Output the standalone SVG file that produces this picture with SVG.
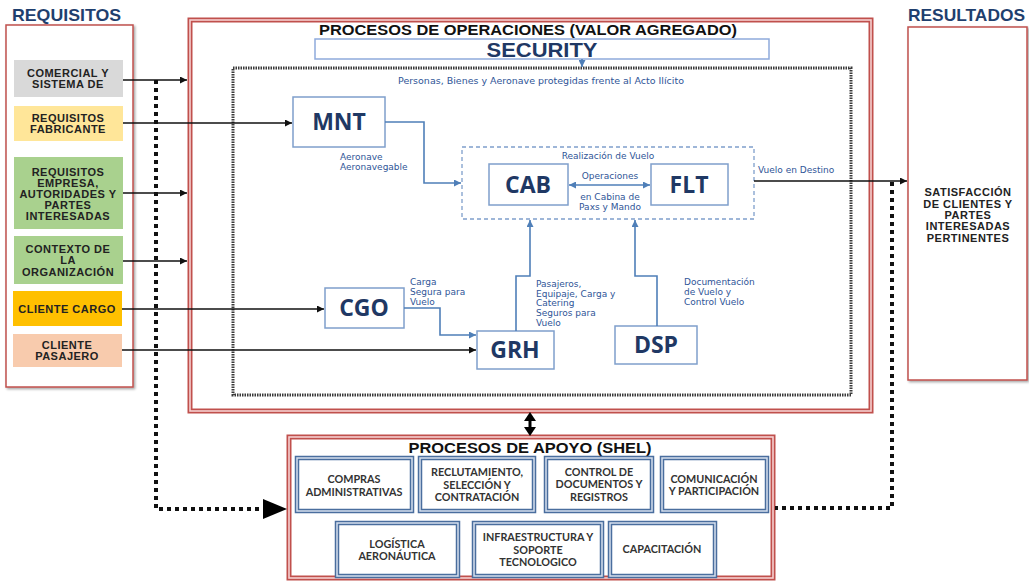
<svg xmlns="http://www.w3.org/2000/svg" width="1029" height="582" viewBox="0 0 1029 582">
<defs>
<marker id="ab" viewBox="0 0 10 10" refX="10" refY="5" markerWidth="7" markerHeight="7" markerUnits="userSpaceOnUse" orient="auto"><path d="M0,0 L10,5 L0,10 z" fill="#111"/></marker>
<marker id="abl" viewBox="0 0 10 10" refX="10" refY="5" markerWidth="7" markerHeight="7" markerUnits="userSpaceOnUse" orient="auto-start-reverse"><path d="M0,0 L10,5 L0,10 z" fill="#4f7fb8"/></marker>
<filter id="sh" x="-5%" y="-5%" width="110%" height="110%"><feDropShadow dx="1.5" dy="1.5" stdDeviation="1" flood-color="#000" flood-opacity="0.35"/></filter>
</defs>
<style>
text{font-family:"Liberation Sans",Arial,sans-serif}
.hd{font-weight:700;fill:#1f3f6e;font-size:17px}
.req{font-weight:700;font-size:11px;fill:#222;text-anchor:middle;letter-spacing:0.5px}
.redbox{fill:#fff;stroke:#c0504d;stroke-width:1.5}
.dbl{fill:none;stroke:#c0504d;stroke-width:5}
.dbli{fill:none;stroke:#f6d0d0;stroke-width:1.6}
.node{fill:#fff;stroke:#7f9fcb;stroke-width:1.5}
.nl{font-family:"Open Sans","Liberation Sans",sans-serif;font-weight:700;font-size:23px;fill:#1f3864;text-anchor:middle}
.sm{font-family:"DejaVu Sans",sans-serif;font-size:9px;fill:#2f5597}
.smc{font-family:"DejaVu Sans",sans-serif;font-size:9px;fill:#2f5597;text-anchor:middle}
.blk{fill:none;stroke:#111;stroke-width:1.6}
.blu{fill:none;stroke:#4f7fb8;stroke-width:1.6}
.dot{fill:none;stroke:#111;stroke-width:4;stroke-dasharray:4 4}
.sup{fill:#fff;stroke:#4a6e9e;stroke-width:4.5}
.supi{fill:none;stroke:#d6e0ee;stroke-width:1.5}
.st{font-family:Lato,"Liberation Sans",sans-serif;font-weight:700;font-size:10.8px;fill:#333;text-anchor:middle}
.ttl{font-weight:700;font-size:14.5px;fill:#111;text-anchor:middle}
</style>

<!-- Left: REQUISITOS -->
<g id="requisitos">
<text class="hd" x="12" y="21" textLength="109" lengthAdjust="spacingAndGlyphs">REQUISITOS</text>
<rect class="redbox" x="6" y="25" width="127" height="362" filter="url(#sh)"/>
</g>
<g id="req-comercial">
<rect x="14" y="60" width="109" height="37" fill="#d9d9d9"/>
<text class="req" x="68" y="77">COMERCIAL Y</text>
<text class="req" x="68" y="88">SISTEMA DE</text>
</g>
<g id="req-fabricante">
<rect x="14" y="106" width="109" height="35" fill="#ffe699"/>
<text class="req" x="68" y="122">REQUISITOS</text>
<text class="req" x="68" y="133">FABRICANTE</text>
</g>
<g id="req-empresa">
<rect x="14" y="157" width="109" height="72" fill="#a9d18e"/>
<text class="req" x="68" y="176">REQUISITOS</text>
<text class="req" x="68" y="187">EMPRESA,</text>
<text class="req" x="68" y="198">AUTORIDADES Y</text>
<text class="req" x="68" y="209">PARTES</text>
<text class="req" x="68" y="220">INTERESADAS</text>
</g>
<g id="req-contexto">
<rect x="14" y="236" width="109" height="48" fill="#a9d18e"/>
<text class="req" x="68" y="253">CONTEXTO DE</text>
<text class="req" x="68" y="264">LA</text>
<text class="req" x="68" y="276">ORGANIZACIÓN</text>
</g>
<g id="req-cargo">
<rect x="13" y="291" width="109" height="35" fill="#ffc000"/>
<text class="req" x="67" y="313">CLIENTE CARGO</text>
</g>
<g id="req-pasajero">
<rect x="13" y="334" width="109" height="33" fill="#f8cbad"/>
<text class="req" x="67" y="349">CLIENTE</text>
<text class="req" x="67" y="360">PASAJERO</text>
</g>

<!-- Operations -->
<g id="operaciones">
<rect class="dbl" x="190" y="20" width="681" height="391"/>
<rect class="dbli" x="190" y="20" width="681" height="391"/>
<text class="ttl" x="528" y="35" textLength="418" lengthAdjust="spacingAndGlyphs">PROCESOS DE OPERACIONES (VALOR AGREGADO)</text>
<rect x="233" y="68" width="618" height="327" fill="none" stroke="#3a3a3a" stroke-width="3" stroke-dasharray="1.5 1"/>
<text class="smc" x="541" y="84" textLength="286" lengthAdjust="spacingAndGlyphs">Personas, Bienes y Aeronave protegidas frente al Acto Ilícito</text>
</g>
<g id="security">
<rect x="315" y="39" width="454" height="20" fill="#fff" stroke="#8eaadb" stroke-width="1.5"/>
<text x="542" y="57" font-family="Open Sans, Liberation Sans, sans-serif" font-weight="700" font-size="20" fill="#1f3864" text-anchor="middle" textLength="111" lengthAdjust="spacingAndGlyphs">SECURITY</text>
</g>
<g id="realizacion">
<rect x="462" y="147" width="292" height="72" fill="none" stroke="#7f9fcb" stroke-width="1.3" stroke-dasharray="4 3"/>
<text class="smc" x="608" y="159">Realización de Vuelo</text>
<text class="smc" x="610" y="179">Operaciones</text>
<text class="smc" x="610" y="200">en Cabina  de</text>
<text class="smc" x="610" y="210">Paxs y Mando</text>
</g>
<g id="mnt">
<rect class="node" x="293" y="97" width="92" height="50"/>
<text class="nl" x="339" y="130">MNT</text>
<text class="sm" x="340" y="160">Aeronave</text>
<text class="sm" x="340" y="170">Aeronavegable</text>
</g>
<g id="cab">
<rect class="node" x="489" y="164" width="79" height="41"/>
<text class="nl" x="528" y="193">CAB</text>
</g>
<g id="flt">
<rect class="node" x="651" y="164" width="77" height="41"/>
<text class="nl" x="689" y="193">FLT</text>
</g>
<g id="cgo">
<rect class="node" x="325" y="288" width="79" height="40"/>
<text class="nl" x="364" y="316">CGO</text>
<text class="sm" x="410" y="285">Carga</text>
<text class="sm" x="410" y="295">Segura para</text>
<text class="sm" x="410" y="305">Vuelo</text>
</g>
<g id="grh">
<rect class="node" x="477" y="331" width="77" height="38"/>
<text class="nl" x="515" y="358">GRH</text>
<text class="sm" x="536" y="287">Pasajeros,</text>
<text class="sm" x="536" y="297">Equipaje, Carga y</text>
<text class="sm" x="536" y="306">Catering</text>
<text class="sm" x="536" y="316">Seguros para</text>
<text class="sm" x="536" y="326">Vuelo</text>
</g>
<g id="dsp">
<rect class="node" x="615" y="326" width="82" height="38"/>
<text class="nl" x="656" y="353">DSP</text>
<text class="sm" x="684" y="285">Documentación</text>
<text class="sm" x="684" y="295">de Vuelo y</text>
<text class="sm" x="684" y="305">Control Vuelo</text>
</g>
<g id="vuelo-destino">
<text class="sm" x="758" y="173">Vuelo en Destino</text>
</g>

<!-- Results -->
<g id="resultados">
<text class="hd" x="908" y="21" textLength="117" lengthAdjust="spacingAndGlyphs">RESULTADOS</text>
<rect class="redbox" x="908" y="27" width="119" height="353" filter="url(#sh)"/>
<text class="req" x="968" y="196">SATISFACCIÓN</text>
<text class="req" x="968" y="208">DE CLIENTES Y</text>
<text class="req" x="968" y="219">PARTES</text>
<text class="req" x="968" y="230">INTERESADAS</text>
<text class="req" x="968" y="242">PERTINENTES</text>
</g>

<!-- Support -->
<g id="apoyo">
<rect class="dbl" x="289" y="437" width="484" height="141"/>
<rect class="dbli" x="289" y="437" width="484" height="141"/>
<text class="ttl" x="530" y="453" textLength="243" lengthAdjust="spacingAndGlyphs">PROCESOS DE APOYO (SHEL)</text>
</g>
<g id="compras">
<rect class="sup" x="297" y="458" width="115" height="53"/><rect class="supi" x="297" y="458" width="115" height="53"/>
<text class="st" x="354" y="483">COMPRAS</text>
<text class="st" x="354" y="496">ADMINISTRATIVAS</text>
</g>
<g id="reclutamiento">
<rect class="sup" x="420" y="458" width="114" height="53"/><rect class="supi" x="420" y="458" width="114" height="53"/>
<text class="st" x="477" y="476">RECLUTAMIENTO,</text>
<text class="st" x="477" y="489">SELECCIÓN Y</text>
<text class="st" x="477" y="501">CONTRATACIÓN</text>
</g>
<g id="control-doc">
<rect class="sup" x="546" y="458" width="106" height="53"/><rect class="supi" x="546" y="458" width="106" height="53"/>
<text class="st" x="599" y="476">CONTROL DE</text>
<text class="st" x="599" y="488">DOCUMENTOS Y</text>
<text class="st" x="599" y="501">REGISTROS</text>
</g>
<g id="comunicacion">
<rect class="sup" x="662" y="458" width="105" height="53"/><rect class="supi" x="662" y="458" width="105" height="53"/>
<text class="st" x="714" y="483">COMUNICACIÓN</text>
<text class="st" x="714" y="495">Y PARTICIPACIÓN</text>
</g>
<g id="logistica">
<rect class="sup" x="337" y="523" width="121" height="53"/><rect class="supi" x="337" y="523" width="121" height="53"/>
<text class="st" x="397" y="548">LOGÍSTICA</text>
<text class="st" x="397" y="560">AERONÁUTICA</text>
</g>
<g id="infraestructura">
<rect class="sup" x="474" y="523" width="128" height="53"/><rect class="supi" x="474" y="523" width="128" height="53"/>
<text class="st" x="538" y="541">INFRAESTRUCTURA Y</text>
<text class="st" x="538" y="554">SOPORTE</text>
<text class="st" x="538" y="566">TECNOLOGICO</text>
</g>
<g id="capacitacion">
<rect class="sup" x="610" y="523" width="105" height="53"/><rect class="supi" x="610" y="523" width="105" height="53"/>
<text class="st" x="662" y="553">CAPACITACIÓN</text>
</g>

<!-- Connectors -->
<g id="connectors">
<path class="blk" d="M123,80 H187" marker-end="url(#ab)"/>
<path class="blk" d="M123,123 H292" marker-end="url(#ab)"/>
<path class="blk" d="M123,193 H187" marker-end="url(#ab)"/>
<path class="blk" d="M123,261 H187" marker-end="url(#ab)"/>
<path class="blk" d="M122,309 H324" marker-end="url(#ab)"/>
<path class="blk" d="M122,350 H476" marker-end="url(#ab)"/>
<path class="blk" d="M754,181 H907" marker-end="url(#ab)"/>
<path class="blu" d="M582,59 V67" marker-end="url(#abl)" stroke-width="1.2"/>
<path class="blu" d="M385,122 H424 V183 H461" marker-end="url(#abl)"/>
<path class="blu" d="M569,185 H650" marker-start="url(#abl)" marker-end="url(#abl)"/>
<path class="blu" d="M404,308 H440 V335 H476" marker-end="url(#abl)"/>
<path class="blu" d="M516,331 V276 H530 V220" marker-end="url(#abl)"/>
<path class="blu" d="M657,326 V276 H635 V220" marker-end="url(#abl)"/>
<path class="dot" d="M156,80 V509 H265"/>
<polygon points="263,499 287,509 263,519" fill="#000"/>
<path class="dot" d="M892,182 V508 H775"/>
<line x1="530" y1="418" x2="530" y2="430" stroke="#000" stroke-width="3"/>
<polygon points="524,421 530,412 536,421" fill="#000"/>
<polygon points="524,427 530,436 536,427" fill="#000"/>
</g>
</svg>
